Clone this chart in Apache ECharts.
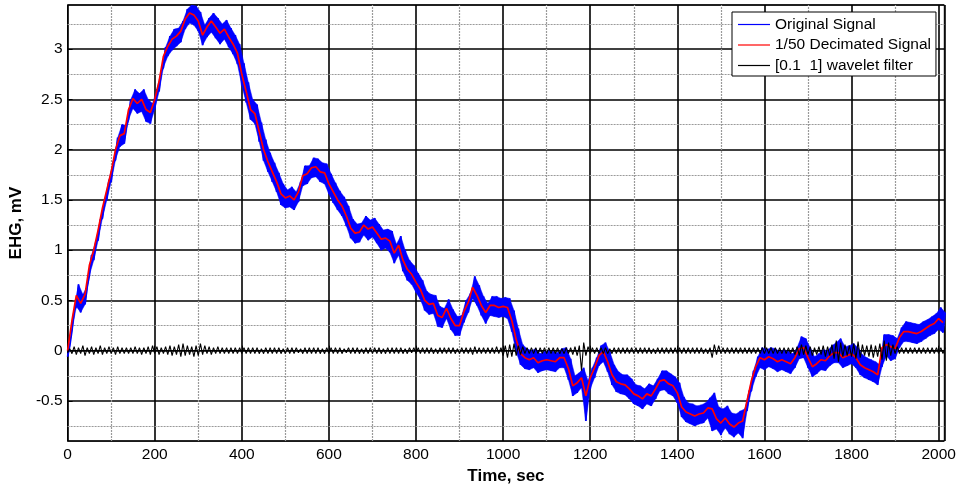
<!DOCTYPE html>
<html>
<head>
<meta charset="utf-8">
<title>EHG signal</title>
<script src="https://cdn.jsdelivr.net/npm/echarts@6/dist/echarts.min.js"></script>
<style>
  html, body { margin: 0; padding: 0; background: #fff; }
  #chart { width: 960px; height: 490px; }
</style>
</head>
<body>
<div id="chart"></div>
<script>
// Samples are stored every 10 s, starting at t = 0.
const SAMPLE_STEP = 10;

// 1/50 decimated signal, mV
const decimated = [
  0.00, 0.30, 0.55, 0.47, 0.56, 0.85, 1.00, 1.20, 1.42, 1.60,
  1.78, 2.00, 2.14, 2.16, 2.40, 2.51, 2.46, 2.50, 2.40, 2.37,
  2.50, 2.68, 2.93, 3.03, 3.10, 3.13, 3.18, 3.30, 3.36, 3.34,
  3.28, 3.14, 3.22, 3.28, 3.22, 3.16, 3.20, 3.12, 3.05, 2.96,
  2.75, 2.58, 2.40, 2.36, 2.18, 2.00, 1.88, 1.78, 1.68, 1.56,
  1.52, 1.54, 1.50, 1.58, 1.74, 1.76, 1.82, 1.83, 1.78, 1.77,
  1.66, 1.58, 1.50, 1.44, 1.34, 1.22, 1.17, 1.18, 1.25, 1.21,
  1.23, 1.17, 1.11, 1.12, 1.09, 0.97, 1.05, 0.90, 0.81, 0.76,
  0.68, 0.61, 0.50, 0.46, 0.47, 0.35, 0.33, 0.42, 0.32, 0.25,
  0.25, 0.39, 0.48, 0.63, 0.55, 0.45, 0.38, 0.45, 0.45, 0.43,
  0.44, 0.43, 0.30, 0.11, -0.03, -0.07, -0.09, -0.07, -0.12, -0.10,
  -0.09, -0.10, -0.11, -0.07, -0.07, -0.18, -0.35, -0.32, -0.27, -0.45,
  -0.27, -0.17, -0.05, -0.01, -0.11, -0.24, -0.31, -0.33, -0.34, -0.38,
  -0.43, -0.45, -0.48, -0.43, -0.45, -0.38, -0.30, -0.29, -0.33, -0.35,
  -0.42, -0.56, -0.61, -0.63, -0.65, -0.63, -0.62, -0.57, -0.58, -0.68,
  -0.72, -0.67, -0.73, -0.76, -0.72, -0.70, -0.50, -0.30, -0.16, -0.07,
  -0.09, -0.06, -0.08, -0.11, -0.09, -0.11, -0.13, -0.07, 0.02, 0.03,
  -0.07, -0.16, -0.13, -0.09, -0.10, -0.05, -0.02, -0.02, -0.07, -0.05,
  -0.03, -0.07, -0.14, -0.17, -0.19, -0.21, -0.24, 0.03, 0.06, 0.04,
  0.02, 0.13, 0.19, 0.19, 0.18, 0.17, 0.19, 0.22, 0.25, 0.27,
  0.32, 0.28
];

// Original signal: highest value inside each 10 s window, mV
const originalHi = [
  0.05, 0.40, 0.66, 0.56, 0.64, 0.95, 1.09, 1.30, 1.50, 1.70,
  1.88, 2.12, 2.25, 2.24, 2.50, 2.60, 2.56, 2.60, 2.50, 2.46,
  2.60, 2.78, 3.02, 3.13, 3.20, 3.21, 3.28, 3.40, 3.44, 3.43,
  3.37, 3.24, 3.31, 3.36, 3.31, 3.25, 3.29, 3.21, 3.14, 3.05,
  2.86, 2.67, 2.50, 2.45, 2.27, 2.10, 1.97, 1.87, 1.77, 1.66,
  1.60, 1.63, 1.58, 1.68, 1.84, 1.84, 1.92, 1.91, 1.87, 1.86,
  1.76, 1.67, 1.59, 1.53, 1.44, 1.31, 1.26, 1.27, 1.34, 1.30,
  1.32, 1.26, 1.20, 1.21, 1.19, 1.06, 1.14, 1.00, 0.90, 0.85,
  0.77, 0.70, 0.59, 0.56, 0.55, 0.44, 0.42, 0.51, 0.41, 0.34,
  0.35, 0.50, 0.57, 0.74, 0.65, 0.54, 0.47, 0.54, 0.54, 0.52,
  0.53, 0.52, 0.40, 0.22, 0.06, 0.02, 0.00, 0.02, -0.03, -0.01,
  0.00, -0.01, -0.02, 0.02, 0.03, -0.08, -0.25, -0.22, -0.17, -0.30,
  -0.17, -0.07, 0.05, 0.08, -0.01, -0.14, -0.21, -0.24, -0.24, -0.28,
  -0.34, -0.35, -0.38, -0.33, -0.35, -0.28, -0.20, -0.20, -0.23, -0.26,
  -0.32, -0.46, -0.52, -0.53, -0.55, -0.54, -0.52, -0.47, -0.42, -0.56,
  -0.58, -0.55, -0.62, -0.63, -0.60, -0.58, -0.40, -0.20, -0.06, 0.03,
  0.01, 0.03, 0.02, -0.01, 0.01, -0.01, -0.03, 0.03, 0.14, 0.12,
  0.03, -0.06, -0.03, 0.01, 0.00, 0.05, 0.08, 0.12, 0.04, 0.05,
  0.07, 0.03, -0.04, -0.07, -0.09, -0.11, -0.14, 0.16, 0.16, 0.15,
  0.12, 0.23, 0.29, 0.28, 0.27, 0.26, 0.29, 0.31, 0.34, 0.37,
  0.43, 0.38
];

// Original signal: lowest value inside each 10 s window, mV
const originalLo = [
  -0.06, 0.20, 0.44, 0.38, 0.46, 0.75, 0.90, 1.10, 1.32, 1.50,
  1.68, 1.90, 2.03, 2.06, 2.30, 2.41, 2.36, 2.38, 2.28, 2.26,
  2.40, 2.58, 2.82, 2.93, 2.99, 3.03, 3.07, 3.20, 3.26, 3.24,
  3.18, 3.04, 3.12, 3.17, 3.11, 3.05, 3.10, 3.02, 2.95, 2.85,
  2.64, 2.47, 2.30, 2.26, 2.08, 1.89, 1.78, 1.68, 1.58, 1.45,
  1.42, 1.43, 1.40, 1.48, 1.64, 1.66, 1.72, 1.73, 1.68, 1.66,
  1.56, 1.47, 1.40, 1.34, 1.24, 1.12, 1.07, 1.08, 1.15, 1.10,
  1.13, 1.07, 1.00, 1.02, 0.98, 0.87, 0.95, 0.79, 0.70, 0.66,
  0.58, 0.51, 0.40, 0.36, 0.37, 0.24, 0.23, 0.32, 0.21, 0.15,
  0.15, 0.28, 0.38, 0.52, 0.45, 0.35, 0.27, 0.35, 0.34, 0.33,
  0.34, 0.32, 0.19, -0.01, -0.14, -0.18, -0.19, -0.17, -0.22, -0.20,
  -0.19, -0.20, -0.21, -0.17, -0.17, -0.29, -0.45, -0.42, -0.37, -0.70,
  -0.38, -0.27, -0.15, -0.11, -0.21, -0.34, -0.41, -0.43, -0.44, -0.48,
  -0.53, -0.55, -0.58, -0.53, -0.55, -0.48, -0.40, -0.39, -0.43, -0.45,
  -0.52, -0.66, -0.71, -0.73, -0.75, -0.73, -0.72, -0.67, -0.80, -0.78,
  -0.84, -0.77, -0.83, -0.86, -0.82, -0.87, -0.60, -0.40, -0.26, -0.17,
  -0.19, -0.16, -0.18, -0.21, -0.19, -0.21, -0.23, -0.17, -0.08, -0.07,
  -0.17, -0.26, -0.23, -0.19, -0.20, -0.15, -0.12, -0.12, -0.17, -0.15,
  -0.13, -0.17, -0.24, -0.27, -0.29, -0.31, -0.34, -0.16, -0.05, -0.10,
  -0.08, 0.03, 0.09, 0.09, 0.08, 0.07, 0.09, 0.12, 0.15, 0.17,
  0.21, 0.18
];

// [0.1 1] wavelet filter output: highest value in each 10 s window, mV
const waveletHi = [
  0.02, 0.04, 0.03, 0.05, 0.03, 0.04, 0.03, 0.05, 0.03, 0.04,
  0.03, 0.04, 0.03, 0.03, 0.03, 0.04, 0.03, 0.03, 0.04, 0.05,
  0.04, 0.03, 0.04, 0.05, 0.04, 0.06, 0.07, 0.05, 0.04, 0.05,
  0.07, 0.05, 0.04, 0.03, 0.04, 0.03, 0.03, 0.03, 0.03, 0.03,
  0.03, 0.03, 0.03, 0.03, 0.02, 0.03, 0.03, 0.03, 0.03, 0.02,
  0.03, 0.03, 0.03, 0.02, 0.03, 0.03, 0.03, 0.03, 0.02, 0.03,
  0.03, 0.03, 0.03, 0.02, 0.03, 0.03, 0.03, 0.02, 0.03, 0.03,
  0.03, 0.03, 0.02, 0.03, 0.03, 0.03, 0.03, 0.02, 0.03, 0.03,
  0.03, 0.03, 0.03, 0.03, 0.02, 0.03, 0.03, 0.03, 0.03, 0.02,
  0.03, 0.03, 0.03, 0.04, 0.03, 0.03, 0.03, 0.03, 0.04, 0.03,
  0.05, 0.06, 0.07, 0.05, 0.04, 0.03, 0.03, 0.03, 0.03, 0.03,
  0.03, 0.03, 0.03, 0.02, 0.03, 0.03, 0.04, 0.05, 0.08, 0.04,
  0.03, 0.03, 0.03, 0.03, 0.02, 0.03, 0.03, 0.03, 0.03, 0.03,
  0.03, 0.03, 0.03, 0.03, 0.02, 0.03, 0.03, 0.03, 0.03, 0.03,
  0.03, 0.03, 0.03, 0.03, 0.03, 0.03, 0.02, 0.03, 0.06, 0.05,
  0.03, 0.03, 0.03, 0.03, 0.03, 0.03, 0.03, 0.03, 0.03, 0.03,
  0.03, 0.03, 0.03, 0.03, 0.03, 0.03, 0.03, 0.04, 0.06, 0.05,
  0.04, 0.03, 0.04, 0.05, 0.04, 0.06, 0.10, 0.08, 0.06, 0.05,
  0.07, 0.09, 0.06, 0.05, 0.06, 0.05, 0.07, 0.10, 0.08, 0.06,
  0.04, 0.03, 0.03, 0.03, 0.03, 0.03, 0.03, 0.03, 0.03, 0.03,
  0.03, 0.03
];

// [0.1 1] wavelet filter output: lowest value in each 10 s window, mV
const waveletLo = [
  -0.02, -0.03, -0.04, -0.03, -0.05, -0.03, -0.04, -0.03, -0.04, -0.03,
  -0.03, -0.04, -0.03, -0.03, -0.03, -0.03, -0.03, -0.04, -0.03, -0.04,
  -0.03, -0.04, -0.03, -0.04, -0.05, -0.04, -0.06, -0.05, -0.04, -0.06,
  -0.05, -0.04, -0.03, -0.04, -0.03, -0.03, -0.03, -0.03, -0.03, -0.03,
  -0.03, -0.03, -0.03, -0.03, -0.03, -0.03, -0.03, -0.03, -0.03, -0.03,
  -0.03, -0.03, -0.03, -0.02, -0.03, -0.03, -0.03, -0.03, -0.03, -0.03,
  -0.03, -0.03, -0.03, -0.03, -0.02, -0.03, -0.03, -0.03, -0.03, -0.03,
  -0.03, -0.03, -0.03, -0.03, -0.03, -0.03, -0.03, -0.03, -0.03, -0.02,
  -0.03, -0.03, -0.03, -0.03, -0.03, -0.03, -0.03, -0.03, -0.03, -0.03,
  -0.03, -0.03, -0.03, -0.04, -0.03, -0.03, -0.03, -0.03, -0.03, -0.03,
  -0.05, -0.07, -0.06, -0.05, -0.04, -0.03, -0.03, -0.03, -0.03, -0.03,
  -0.03, -0.03, -0.03, -0.03, -0.03, -0.03, -0.04, -0.05, -0.20, -0.05,
  -0.03, -0.03, -0.03, -0.03, -0.03, -0.03, -0.03, -0.03, -0.03, -0.03,
  -0.03, -0.03, -0.03, -0.03, -0.03, -0.03, -0.03, -0.03, -0.03, -0.03,
  -0.03, -0.03, -0.03, -0.03, -0.03, -0.03, -0.03, -0.03, -0.07, -0.04,
  -0.03, -0.03, -0.03, -0.03, -0.03, -0.03, -0.03, -0.03, -0.03, -0.03,
  -0.03, -0.03, -0.03, -0.03, -0.03, -0.03, -0.03, -0.04, -0.05, -0.04,
  -0.04, -0.05, -0.04, -0.04, -0.06, -0.05, -0.08, -0.11, -0.06, -0.05,
  -0.06, -0.08, -0.07, -0.05, -0.06, -0.07, -0.06, -0.09, -0.10, -0.05,
  -0.03, -0.03, -0.03, -0.03, -0.03, -0.03, -0.03, -0.03, -0.03, -0.03,
  -0.03, -0.03
];

const seriesNames = ['Original Signal', '1/50 Decimated Signal', '[0.1  1] wavelet filter'];

// Axis extents and grid positions (sec, mV)
const xRange = [0, 2013];
const yRange = [-0.9, 3.44];
const xMinorGrid = [100, 300, 500, 700, 900, 1100, 1300, 1500, 1700, 1900];
const yMinorGrid = [-0.75, -0.25, 0.25, 0.75, 1.25, 1.75, 2.25, 2.75, 3.25];

const FONT = "'Liberation Sans', Arial, sans-serif";
const BLUE = '#0000ff';

// Sample times; the window maximum is placed half a step after the minimum
const times = decimated.map((_, i) => i * SAMPLE_STEP);
const HALF = SAMPLE_STEP / 2;

// Dense traces alternate between the window minimum and maximum
function minMaxTrace(lo, hi) {
  const out = [];
  times.forEach((t, i) => {
    out.push([t, lo[i]]);
    out.push([t + HALF, hi[i]]);
  });
  return out;
}
const originalTrace = minMaxTrace(originalLo, originalHi);
const waveletTrace = minMaxTrace(waveletLo, waveletHi);
const decimatedTrace = times.map((t, i) => [t, decimated[i]]);

const minorGridLines = [
  ...xMinorGrid.map(v => ({ xAxis: v })),
  ...yMinorGrid.map(v => ({ yAxis: v }))
];

// Solid envelope of the original signal: upper edge forward, lower edge back
function renderEnvelope(params, api) {
  const upper = times.map((t, i) => api.coord([t + HALF, originalHi[i]]));
  const lower = times.map((t, i) => api.coord([t, originalLo[i]])).reverse();
  return {
    type: 'polygon',
    shape: { points: upper.concat(lower) },
    style: { fill: BLUE, stroke: BLUE, lineWidth: 0.5 }
  };
}

const chart = echarts.init(document.getElementById('chart'), null, { renderer: 'canvas' });

chart.setOption({
  animation: false,
  backgroundColor: '#fff',
  textStyle: { fontFamily: FONT },
  grid: {
    left: 65.5, right: 15.7, top: 5, bottom: 44,
    show: true, borderColor: '#000', borderWidth: 1, backgroundColor: '#fff'
  },
  legend: {
    data: seriesNames,
    z: 20,
    orient: 'vertical',
    left: 732, top: 12,
    width: 206,
    padding: [4.5, 5, 2.5, 6],
    icon: 'rect',
    itemWidth: 32, itemHeight: 1.2, itemGap: 4.5,
    backgroundColor: '#fff',
    borderColor: '#000', borderWidth: 1, borderRadius: 0,
    textStyle: { fontFamily: FONT, fontSize: 15.5, lineHeight: 16, color: '#000' }
  },
  xAxis: {
    type: 'value',
    min: xRange[0], max: xRange[1], interval: 200,
    name: 'Time, sec', nameLocation: 'middle', nameGap: 26,
    nameTextStyle: { fontFamily: FONT, fontSize: 17, fontWeight: 'bold', color: '#000' },
    axisLine: { show: true, lineStyle: { color: '#000', width: 1 } },
    axisTick: { show: true, inside: true, length: 5, lineStyle: { color: '#000' } },
    axisLabel: {
      fontFamily: FONT, fontSize: 15.5, color: '#000', margin: 6, showMaxLabel: false,
      formatter: v => String(v)
    },
    splitLine: { show: true, lineStyle: { color: '#000', width: 1.6 } }
  },
  yAxis: {
    type: 'value',
    min: yRange[0], max: yRange[1], splitNumber: 9,
    name: 'EHG, mV', nameLocation: 'middle', nameGap: 33,
    nameTextStyle: { fontFamily: FONT, fontSize: 17, fontWeight: 'bold', color: '#000' },
    axisLine: { show: true, lineStyle: { color: '#000', width: 1 } },
    axisTick: { show: true, inside: true, length: 5, lineStyle: { color: '#000' } },
    axisLabel: {
      fontFamily: FONT, fontSize: 15.5, color: '#000', margin: 5,
      showMinLabel: false, showMaxLabel: false,
      formatter: v => String(v)
    },
    splitLine: { show: true, lineStyle: { color: '#000', width: 1.6 } }
  },
  series: [
    {
      // minor grid, dotted, drawn below the signals
      name: 'minor-grid',
      type: 'line',
      data: [],
      z: 1,
      silent: true,
      markLine: {
        z: 1,
        silent: true,
        symbol: 'none',
        animation: false,
        label: { show: false },
        lineStyle: { color: '#9a9a9a', type: [2, 1], width: 1.2 },
        data: minorGridLines
      }
    },
    {
      name: 'envelope',
      type: 'custom',
      data: [[0, 0]],
      renderItem: renderEnvelope,
      clip: true,
      silent: true,
      z: 2
    },
    {
      name: seriesNames[0],
      type: 'line',
      data: originalTrace,
      symbol: 'none',
      z: 3,
      color: BLUE,
      lineStyle: { color: BLUE, width: 1.8 }
    },
    {
      name: seriesNames[1],
      type: 'line',
      data: decimatedTrace,
      symbol: 'none',
      z: 4,
      color: '#ff0000',
      lineStyle: { color: '#ff0000', width: 1.7 }
    },
    {
      name: seriesNames[2],
      type: 'line',
      data: waveletTrace,
      symbol: 'none',
      z: 5,
      color: '#000000',
      lineStyle: { color: '#000000', width: 1.1 }
    }
  ]
});
</script>
</body>
</html>
